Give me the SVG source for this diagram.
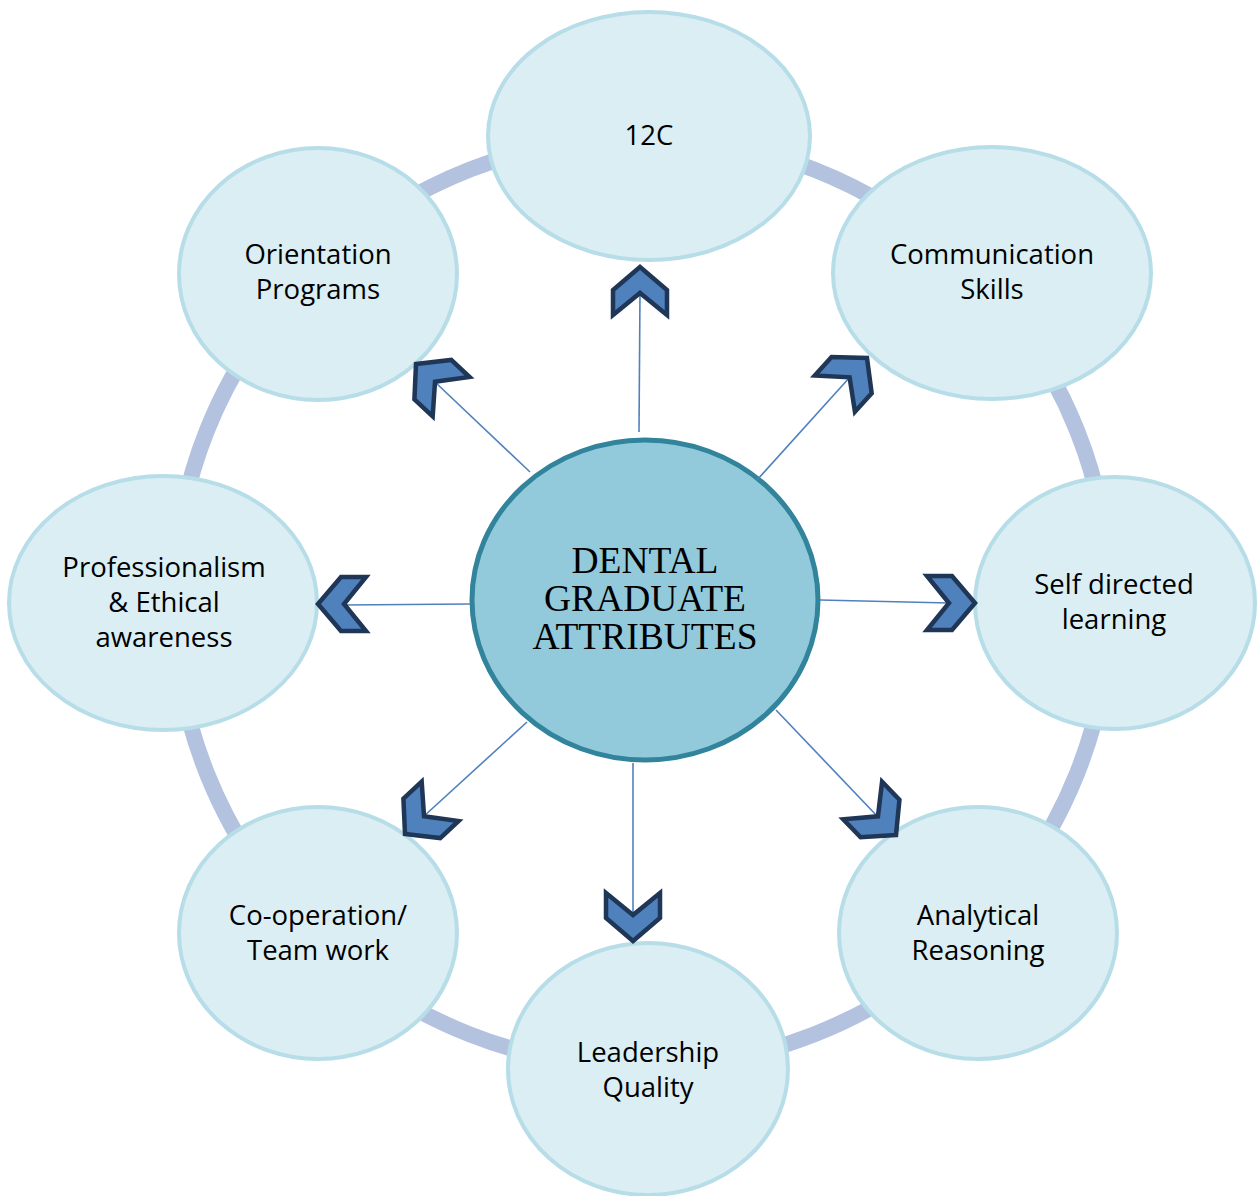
<svg xmlns="http://www.w3.org/2000/svg" width="1258" height="1196" viewBox="0 0 1258 1196">
<defs>
<style>
.node{fill:#daeef3;stroke:#b7dde8;stroke-width:4}
.lbl{font-family:"Open Sans","DejaVu Sans",sans-serif;font-size:27.5px;fill:#000;text-anchor:middle}
.hub{fill:#92cadb;stroke:#31849b;stroke-width:5}
.hubt{font-family:"Liberation Serif","Times New Roman",serif;font-size:37.5px;fill:#000;text-anchor:middle}
.ln{stroke:#4f81bd;stroke-width:1.6;fill:none}
.chev{fill:#4f81bd;stroke:#1f3657;stroke-width:4.5;stroke-linejoin:miter}
</style>
<path id="chev" class="chev" d="M0,0 L27,23 L27,48 L0,26 L-27,48 L-27,23 Z"/>
</defs>
<rect width="1258" height="1196" fill="#ffffff"/>
<ellipse cx="642" cy="602" rx="468" ry="465" fill="none" stroke="#b3c2de" stroke-width="16"/>
<g id="n-12c"><ellipse class="node" cx="649" cy="136" rx="161" ry="124"/><text class="lbl" x="649" y="145">12C</text></g>
<g id="n-communication"><ellipse class="node" cx="992" cy="273" rx="159" ry="126"/><text class="lbl" x="992" y="264">Communication</text><text class="lbl" x="992" y="299">Skills</text></g>
<g id="n-self"><ellipse class="node" cx="1115" cy="603" rx="140" ry="126"/><text class="lbl" x="1114" y="594">Self directed</text><text class="lbl" x="1114" y="629">learning</text></g>
<g id="n-analytical"><ellipse class="node" cx="978" cy="933" rx="139" ry="126"/><text class="lbl" x="978" y="925">Analytical</text><text class="lbl" x="978" y="960">Reasoning</text></g>
<g id="n-leadership"><ellipse class="node" cx="648" cy="1069" rx="140" ry="126"/><text class="lbl" x="648" y="1062">Leadership</text><text class="lbl" x="648" y="1097">Quality</text></g>
<g id="n-cooperation"><ellipse class="node" cx="318" cy="933" rx="139" ry="126"/><text class="lbl" x="318" y="925">Co-operation/</text><text class="lbl" x="318" y="960">Team work</text></g>
<g id="n-professionalism"><ellipse class="node" cx="163" cy="603" rx="154" ry="127"/><text class="lbl" x="164" y="577">Professionalism</text><text class="lbl" x="164" y="612">&amp; Ethical</text><text class="lbl" x="164" y="647">awareness</text></g>
<g id="n-orientation"><ellipse class="node" cx="318" cy="274" rx="139" ry="126"/><text class="lbl" x="318" y="264">Orientation</text><text class="lbl" x="318" y="299">Programs</text></g>
<g id="hub"><ellipse class="hub" cx="645" cy="600" rx="173" ry="160"/><text class="hubt" x="645" y="573">DENTAL</text><text class="hubt" x="645" y="611">GRADUATE</text><text class="hubt" x="645" y="649">ATTRIBUTES</text></g>
<g id="connectors">
<line class="ln" x1="639" y1="432" x2="640" y2="292"/>
<line class="ln" x1="757" y1="480" x2="850" y2="377"/>
<line class="ln" x1="820" y1="600" x2="949" y2="603"/>
<line class="ln" x1="776" y1="710" x2="878" y2="817"/>
<line class="ln" x1="633" y1="763" x2="633" y2="916"/>
<line class="ln" x1="527" y1="722" x2="423" y2="817"/>
<line class="ln" x1="470" y1="604" x2="343" y2="605"/>
<line class="ln" x1="530" y1="472" x2="435" y2="382"/>
<use href="#chev" transform="translate(640,267)"/>
<use href="#chev" transform="translate(867,358) rotate(42)"/>
<use href="#chev" transform="translate(975,603) rotate(90)"/>
<use href="#chev" transform="translate(896,835) rotate(136)"/>
<use href="#chev" transform="translate(633,941) rotate(180)"/>
<use href="#chev" transform="translate(405,834) rotate(227)"/>
<use href="#chev" transform="translate(318,604) rotate(270)"/>
<use href="#chev" transform="translate(416,364) rotate(313)"/>
</g>
</svg>
